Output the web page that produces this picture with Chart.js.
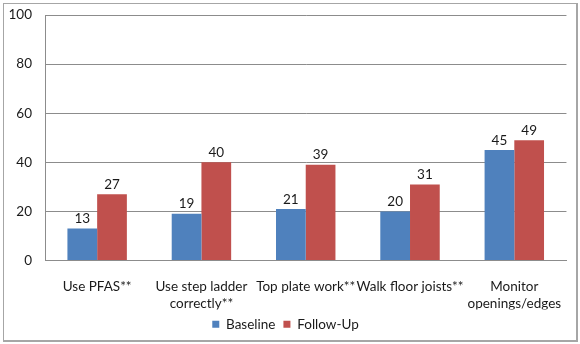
<!DOCTYPE html>
<html>
<head>
<meta charset="utf-8">
<script src="https://cdn.jsdelivr.net/npm/chart.js@4/dist/chart.umd.min.js"></script>
<style>
  html, body { margin: 0; padding: 0; background: #fff; }
  #wrap { position: relative; width: 580px; height: 344px; }
  #frame {
    position: absolute; left: 3px; top: 3px; width: 572px; height: 336px;
    border: 1px solid #a6a6a6; border-right-width: 2px; border-bottom-width: 2px;
    pointer-events: none;
  }
  canvas { position: absolute; left: 0; top: 0; }
</style>
</head>
<body>
<div id="wrap">
  <canvas id="behaviourChart" width="580" height="344"></canvas>
  <div id="frame"></div>
</div>
<script>
// Safety behaviours, percent observed
const categories = [
  "Use PFAS**",
  ["Use step ladder", "correctly**"],
  "Top plate work**",
  "Walk floor joists**",
  ["Monitor", "openings/edges"],
];
const baseline = [13, 19, 21, 20, 45];
const followUp = [27, 40, 39, 31, 49];
const yTicks = [0, 20, 40, 60, 80, 100];

const colors = {
  baseline: "#4f81bd",
  followUp: "#c0504d",
  grid: "#8c8c8c",
  text: "#1a1a1a",
};

const FONT = "Lato, 'Open Sans', sans-serif";

// Draw each bar's value just above it
const valueLabels = {
  id: "valueLabels",
  afterDatasetsDraw(chart) {
    const ctx = chart.ctx;
    ctx.save();
    ctx.font = `13.5px ${FONT}`;
    ctx.fillStyle = colors.text;
    ctx.textAlign = "center";
    ctx.textBaseline = "bottom";
    chart.data.datasets.forEach((ds, i) => {
      chart.getDatasetMeta(i).data.forEach((bar, j) => {
        ctx.fillText(String(ds.data[j]), bar.x, bar.y - 3);
      });
    });
    ctx.restore();
  },
};

new Chart(document.getElementById("behaviourChart"), {
  type: "bar",
  data: {
    labels: categories,
    datasets: [
      {
        label: "Baseline",
        data: baseline,
        backgroundColor: colors.baseline,
        categoryPercentage: 0.57,
        barPercentage: 1.0,
      },
      {
        label: "Follow-Up",
        data: followUp,
        backgroundColor: colors.followUp,
        categoryPercentage: 0.57,
        barPercentage: 1.0,
      },
    ],
  },
  options: {
    responsive: false,
    animation: false,
    layout: { padding: { top: 15, right: 9, left: 0, bottom: 3 } },
    plugins: {
      tooltip: { enabled: false },
      legend: {
        position: "bottom",
        labels: {
          boxWidth: 7,
          boxHeight: 7,
          padding: 8,
          color: colors.text,
          font: { family: FONT, size: 13.5 },
        },
      },
    },
    scales: {
      x: {
        afterFit(scale) {
          scale.height = 49;
        },
        grid: { display: false, drawTicks: false },
        border: { color: colors.grid, width: 1 },
        ticks: {
          color: colors.text,
          padding: 18,
          maxRotation: 0,
          autoSkip: false,
          font: { family: FONT, size: 13.5, lineHeight: 1.25 },
        },
      },
      y: {
        min: 0,
        max: 100,
        afterBuildTicks(scale) {
          scale.ticks = yTicks.map((v) => ({ value: v }));
        },
        afterFit(scale) {
          scale.width = 45;
          scale.paddingTop = 0;
          scale.paddingBottom = 0;
        },
        grid: { color: colors.grid, drawTicks: false },
        border: { color: colors.grid, width: 1 },
        ticks: {
          color: colors.text,
          padding: 13,
          font: { family: FONT, size: 13.5 },
        },
      },
    },
  },
  plugins: [valueLabels],
});
</script>
</body>
</html>
